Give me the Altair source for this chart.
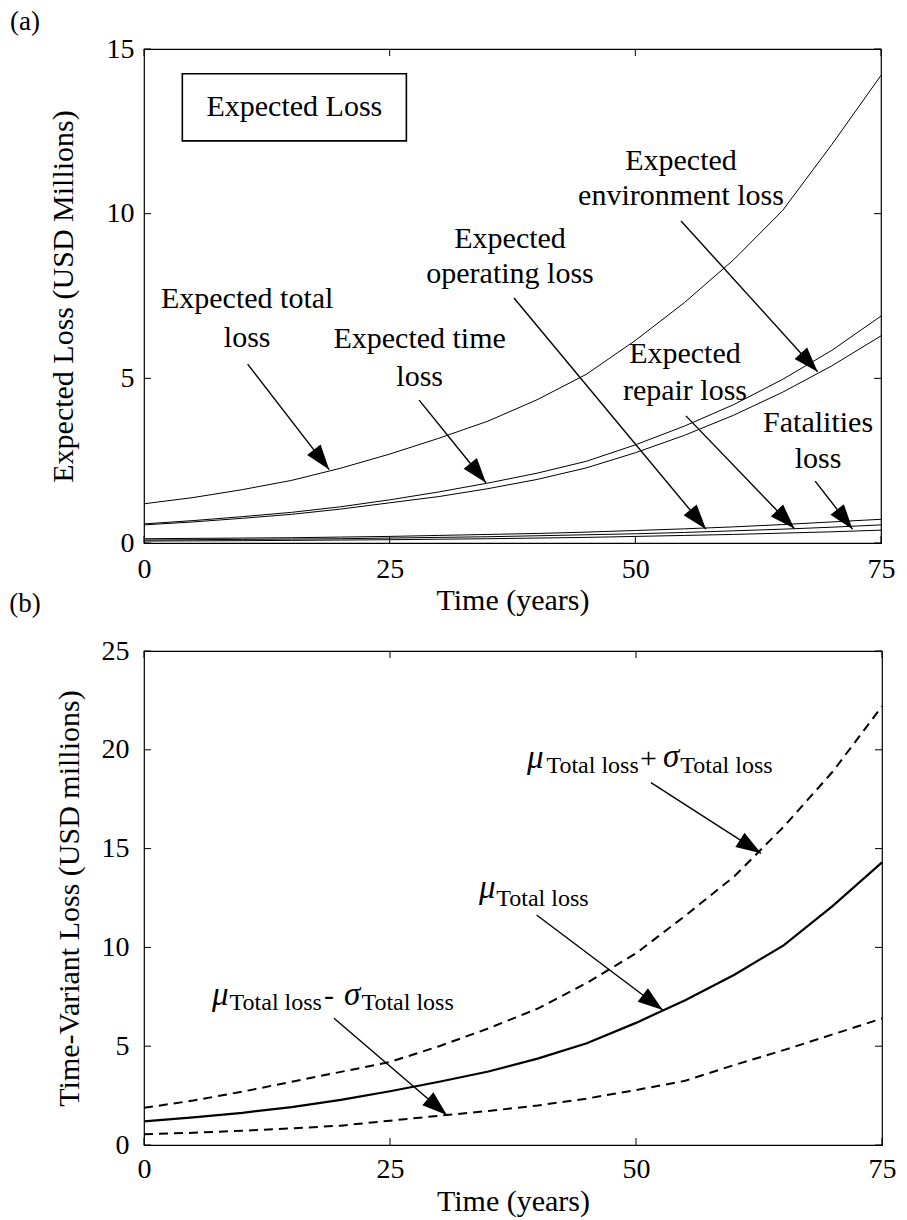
import math
import altair as alt
import pandas as pd

FONT = "Liberation Serif"

# ---------------- data ----------------
years = [0, 5, 10, 15, 20, 25, 30, 35, 40, 45, 50, 55, 60, 65, 70, 75]

# panel (a): expected losses (USD millions)
total_loss = [1.19, 1.38, 1.62, 1.90, 2.27, 2.70, 3.18, 3.70, 4.35, 5.12, 6.15, 7.30, 8.60, 10.1, 12.1, 14.2]
time_loss = [0.58, 0.68, 0.80, 0.93, 1.10, 1.31, 1.55, 1.82, 2.12, 2.48, 2.98, 3.55, 4.20, 4.97, 5.85, 6.89]
environment_loss = [0.55, 0.64, 0.75, 0.87, 1.03, 1.22, 1.41, 1.65, 1.93, 2.28, 2.74, 3.27, 3.88, 4.58, 5.38, 6.29]
operating_loss = [0.13, 0.14, 0.15, 0.16, 0.18, 0.20, 0.23, 0.26, 0.29, 0.33, 0.38, 0.43, 0.49, 0.56, 0.64, 0.72]
repair_loss = [0.09, 0.10, 0.11, 0.12, 0.13, 0.15, 0.17, 0.19, 0.22, 0.25, 0.28, 0.32, 0.37, 0.42, 0.48, 0.55]
fatalities_loss = [0.06, 0.065, 0.07, 0.08, 0.09, 0.10, 0.115, 0.13, 0.15, 0.17, 0.20, 0.23, 0.26, 0.30, 0.34, 0.39]

# panel (b): time-variant loss
mean_loss = [1.20, 1.40, 1.63, 1.92, 2.28, 2.72, 3.20, 3.72, 4.37, 5.15, 6.18, 7.33, 8.62, 10.1, 12.1, 14.3]
mean_plus_sd = [1.88, 2.25, 2.70, 3.20, 3.70, 4.20, 5.00, 5.90, 6.90, 8.20, 9.70, 11.6, 13.6, 16.1, 18.9, 22.2]
mean_minus_sd = [0.54, 0.62, 0.72, 0.84, 0.98, 1.23, 1.48, 1.72, 2.00, 2.35, 2.78, 3.25, 4.05, 4.80, 5.60, 6.40]

x_ticks = [0, 25, 50, 75]
ya_ticks = [0, 5, 10, 15]
yb_ticks = [0, 5, 10, 15, 20, 25]

# annotation texts (a): text, x (years), y (value)
labels_a_text = ["Expected total", "loss", "Expected time", "loss", "Expected", "operating loss",
                 "Expected", "environment loss", "Expected", "repair loss", "Fatalities", "loss"]
labels_a_x = [10.5, 10.5, 28.05, 28.05, 37.25, 37.25, 54.65, 54.65, 55.05, 55.05, 68.6, 68.6]
labels_a_y = [7.41, 6.23, 6.19, 5.04, 9.23, 8.17, 11.60, 10.54, 5.74, 4.62, 3.64, 2.55]

# arrows (a): start x, start y, end x, end y
arrows_a = [
    [10.55, 5.43, 18.84, 2.23],   # total
    [28.0, 4.34, 34.8, 1.83],     # time
    [37.65, 7.44, 57.2, 0.42],    # operating
    [54.65, 9.78, 68.55, 5.20],   # environment
    [55.15, 3.86, 66.18, 0.44],   # repair
    [68.3, 1.88, 72.1, 0.42],     # fatalities
]

legend_box_x = [3.9, 26.7]
legend_box_y = [12.21, 14.25]
legend_text = "Expected Loss"

# annotation pieces (b)
greek_text = ["\u03bc", "\u03c3", "\u03bc", "\u03bc", "\u03c3"]
greek_x = [38.92, 52.74, 34.04, 6.91, 20.33]
greek_y = [19.08, 19.13, 12.50, 7.09, 7.09]
sub_text = ["Total loss"] * 5
sub_x = [40.9, 54.5, 35.8, 8.7, 22.1]
sub_y = [18.83, 18.83, 12.10, 6.83, 6.83]
op_text = ["+", "-"]
op_x = [50.41, 18.29]
op_y = [19.08, 7.09]

arrows_b = [
    [51.52, 18.34, 62.7, 14.76],
    [39.9, 11.64, 52.72, 6.83],
    [19.31, 6.41, 30.78, 1.52],
]

# ---------------- layout constants ----------------
W_A, H_A = 737, 494
W_B, H_B = 738, 494
X_MAX = 75
YA_MAX = 15
YB_MAX = 25
TICK_LEN = 7

xs = alt.Scale(domain=[0, X_MAX], nice=False, zero=False)
ysa = alt.Scale(domain=[0, YA_MAX], nice=False)
ysb = alt.Scale(domain=[0, YB_MAX], nice=False)

ax_xa = alt.Axis(values=x_ticks, title="Time (years)", labelPadding=12, titlePadding=2, format="d")
ax_ya = alt.Axis(values=ya_ticks, title="Expected Loss (USD Millions)", labelPadding=10, titlePadding=28, format="d")
ax_xb = alt.Axis(values=x_ticks, title="Time (years)", labelPadding=10, titlePadding=3, format="d")
ax_yb = alt.Axis(values=yb_ticks, title="Time-Variant Loss (USD millions)", labelPadding=15, titlePadding=17, format="d")


def long_df(series):
    rows = []
    for name, vals in series.items():
        for x, v in zip(years, vals):
            rows.append({"year": x, "value": v, "series": name})
    return pd.DataFrame(rows)


def inward_ticks(ys, yticks, w, h, axx, axy):
    xt = pd.DataFrame({"year": x_ticks})
    yt = pd.DataFrame({"value": yticks})
    X = alt.X("year:Q", scale=xs, axis=axx)
    Y = alt.Y("value:Q", scale=ys, axis=axy)
    base_x = alt.Chart(xt).mark_rule(color="black", strokeWidth=1)
    base_y = alt.Chart(yt).mark_rule(color="black", strokeWidth=1)
    return [
        base_x.encode(x=X, y=alt.value(h), y2=alt.value(h - TICK_LEN)),
        base_x.encode(x=X, y=alt.value(0), y2=alt.value(TICK_LEN)),
        base_y.encode(y=Y, x=alt.value(0), x2=alt.value(TICK_LEN)),
        base_y.encode(y=Y, x=alt.value(w), x2=alt.value(w - TICK_LEN)),
    ]


def arrow_layers(arrows, ys, w, h, ymax, axx, axy):
    df = pd.DataFrame(arrows, columns=["x1", "y1", "x2", "y2"])
    df["angle"] = [
        math.degrees(math.atan2((r.x2 - r.x1) * w / X_MAX, (r.y2 - r.y1) * h / ymax)) % 360
        for r in df.itertuples()
    ]
    shaft = alt.Chart(df).mark_rule(color="black", strokeWidth=1.4).encode(
        x=alt.X("x1:Q", scale=xs, axis=axx),
        y=alt.Y("y1:Q", scale=ys, axis=axy),
        x2="x2:Q",
        y2="y2:Q",
    )
    head = alt.Chart(df).mark_point(
        shape="M0,0L-0.34,1L0.34,1Z", size=2500, filled=True, color="black", opacity=1, strokeWidth=0
    ).encode(
        x=alt.X("x2:Q", scale=xs, axis=axx),
        y=alt.Y("y2:Q", scale=ys, axis=axy),
        angle=alt.Angle("angle:Q", scale=None),
    )
    return [shaft, head]


# ---------------- panel (a) ----------------
df_a = long_df({
    "total": total_loss, "time": time_loss, "environment": environment_loss,
    "operating": operating_loss, "repair": repair_loss, "fatalities": fatalities_loss,
})

XA = lambda f: alt.X(f, scale=xs, axis=ax_xa)
YA = lambda f: alt.Y(f, scale=ysa, axis=ax_ya)

lines_a = alt.Chart(df_a).mark_line(color="black", strokeWidth=1).encode(
    x=XA("year:Q"), y=YA("value:Q"), detail="series:N")

lab_a = pd.DataFrame({"text": labels_a_text, "x": labels_a_x, "y": labels_a_y})
text_a = alt.Chart(lab_a).mark_text(font=FONT, fontSize=30, color="black", align="center", baseline="middle").encode(
    x=XA("x:Q"), y=YA("y:Q"), text="text:N")

box_df = pd.DataFrame({"x": [legend_box_x[0]], "x2": [legend_box_x[1]], "y": [legend_box_y[0]],
                       "y2": [legend_box_y[1]], "text": [legend_text],
                       "xc": [sum(legend_box_x) / 2], "yc": [sum(legend_box_y) / 2]})
box = alt.Chart(box_df).mark_rect(fillOpacity=0, stroke="black", strokeWidth=1.6).encode(
    x=XA("x:Q"), x2="x2:Q", y=YA("y:Q"), y2="y2:Q")
box_text = alt.Chart(box_df).mark_text(font=FONT, fontSize=30, color="black", align="center", baseline="middle").encode(
    x=XA("xc:Q"), y=YA("yc:Q"), text="text:N")

tag_a = alt.Chart(pd.DataFrame({"t": ["(a)"]})).mark_text(font=FONT, fontSize=27, color="black", align="center", baseline="alphabetic").encode(
    text="t:N", x=alt.value(-119), y=alt.value(-19))
tag_b = alt.Chart(pd.DataFrame({"t": ["(b)"]})).mark_text(font=FONT, fontSize=27, color="black", align="center", baseline="alphabetic").encode(
    text="t:N", x=alt.value(-119), y=alt.value(563))

panel_a = alt.layer(
    lines_a, text_a, box, box_text, *arrow_layers(arrows_a, ysa, W_A, H_A, YA_MAX, ax_xa, ax_ya),
    *inward_ticks(ysa, ya_ticks, W_A, H_A, ax_xa, ax_ya), tag_a, tag_b
).properties(width=W_A, height=H_A)

# ---------------- panel (b) ----------------
XB = lambda f: alt.X(f, scale=xs, axis=ax_xb)
YB = lambda f: alt.Y(f, scale=ysb, axis=ax_yb)

df_mean = pd.DataFrame({"year": years, "value": mean_loss})
df_dash = long_df({"plus": mean_plus_sd, "minus": mean_minus_sd})

mean_line = alt.Chart(df_mean).mark_line(color="black", strokeWidth=2.2).encode(
    x=XB("year:Q"), y=YB("value:Q"))
dash_lines = alt.Chart(df_dash).mark_line(color="black", strokeWidth=2, strokeDash=[9, 6]).encode(
    x=XB("year:Q"), y=YB("value:Q"), detail="series:N")

greek = alt.Chart(pd.DataFrame({"t": greek_text, "x": greek_x, "y": greek_y})).mark_text(
    font=FONT, fontSize=33, fontStyle="italic", color="black", align="left", baseline="alphabetic").encode(
    x=XB("x:Q"), y=YB("y:Q"), text="t:N")
subs = alt.Chart(pd.DataFrame({"t": sub_text, "x": sub_x, "y": sub_y})).mark_text(
    font=FONT, fontSize=24, color="black", align="left", baseline="alphabetic").encode(
    x=XB("x:Q"), y=YB("y:Q"), text="t:N")
ops = alt.Chart(pd.DataFrame({"t": op_text, "x": op_x, "y": op_y})).mark_text(
    font=FONT, fontSize=30, color="black", align="left", baseline="alphabetic").encode(
    x=XB("x:Q"), y=YB("y:Q"), text="t:N")

panel_b = alt.layer(
    mean_line, dash_lines, greek, subs, ops, *arrow_layers(arrows_b, ysb, W_B, H_B, YB_MAX, ax_xb, ax_yb),
    *inward_ticks(ysb, yb_ticks, W_B, H_B, ax_xb, ax_yb)
).properties(width=W_B, height=H_B)

chart = alt.vconcat(panel_a, panel_b, spacing=18).properties(
    padding={"left": 0, "top": -1, "right": 2, "bottom": 0}
).configure_view(stroke="black", strokeWidth=1.2).configure_axis(
    labelFont=FONT, titleFont=FONT, labelFontSize=28, titleFontSize=30, labelColor="black",
    titleColor="black", titleFontWeight="normal", ticks=False, tickSize=0, domain=False, grid=False,
    labelFlush=False, labelOverlap=False,
)

chart.save("out.html", embed_options={"renderer": "svg", "actions": False})
